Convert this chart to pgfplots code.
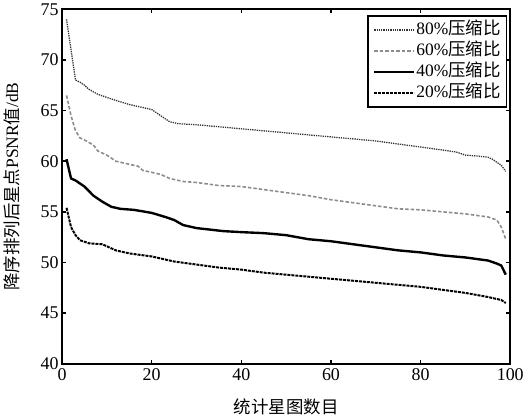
\documentclass[border=0pt]{standalone}
\usepackage{fontspec}
\setmainfont{Liberation Serif}
\newfontfamily\cjk{Noto Sans CJK SC}
\usepackage{pgfplots}
\pgfplotsset{compat=1.18}

\begin{document}
\begin{tikzpicture}
\begin{axis}[
  scale only axis,
  width=450bp, height=356bp,
  xmin=0, xmax=100, ymin=40, ymax=75,
  xtick={0,20,...,100}, ytick={40,45,...,75},
  tick align=inside, major tick length=4bp,
  axis line style={line width=2pt},
  tick style={line width=1.6pt, black},
  /pgf/number format/assume math mode=true,
  tick label style={font=\fontsize{18bp}{20bp}\selectfont\rmfamily},
  xticklabel style={yshift=-1bp},
  label style={font=\fontsize{17.5bp}{20bp}\selectfont},
  xlabel={\cjk 统计星图数目},
  ylabel={{\cjk 降序排列后星点}PSNR{\cjk 值}/dB},
  xlabel style={at={(axis description cs:0.5,-0.122)}, anchor=center},
  ylabel style={at={(axis description cs:-0.113,0.5)}, anchor=center},
  legend style={at={(1,1)}, xshift=-3bp, yshift=-6bp, anchor=north east,
    draw=black, line width=1.4pt, font=\fontsize{17.5bp}{19bp}\selectfont,
    inner sep=5bp, row sep=2.5bp,
    nodes={inner sep=1bp, text height=13bp, text depth=3.5bp}},
  legend cell align=left,
  legend image code/.code={\draw[#1] (0bp,0bp) -- (40bp,0bp);},
]
\addplot[black!80, line width=1.3pt, densely dotted] coordinates {
(1,74)(2,71)(3,68)(4,67.8)(5,67.5)(6,67.1)(8,66.6)(10,66.3)(12,66)(15,65.6)
(18,65.3)(20,65.1)(21,64.8)(22,64.5)(24,63.9)(26,63.7)(30,63.6)(35,63.4)
(40,63.2)(45,63.0)(50,62.8)(55,62.6)(60,62.4)(65,62.2)(70,62.0)(75,61.7)
(80,61.4)(85,61.1)(88,60.9)(90,60.6)(93,60.5)(95,60.4)(96,60.2)(98,59.6)(99,59.0)};
\addlegendentry{80\%{\cjk 压缩比}}
\addplot[black!45, line width=1.6pt, dash pattern=on 3.5bp off 2bp] coordinates {
(1,66.5)(2,64.5)(3,63)(4,62.3)(5,62.1)(7,61.6)(8,61)(10,60.6)(12,60)(15,59.7)
(17,59.5)(18,59.1)(22,58.7)(24,58.3)(27,58)(30,57.9)(35,57.6)(40,57.5)(45,57.2)
(50,56.9)(55,56.6)(60,56.2)(65,55.9)(70,55.6)(75,55.3)(80,55.2)(85,55.0)
(90,54.8)(95,54.5)(97,54.2)(98,53.5)(99,52.3)};
\addlegendentry{60\%{\cjk 压缩比}}
\addplot[black, line width=2.4pt] coordinates {
(1,60.2)(2,58.3)(3,58.1)(5,57.5)(7,56.6)(9,56)(11,55.5)(13,55.3)(16,55.2)
(20,54.9)(23,54.5)(25,54.2)(27,53.7)(30,53.4)(36,53.1)(40,53.0)(45,52.9)
(50,52.7)(55,52.3)(60,52.1)(65,51.8)(70,51.5)(75,51.2)(80,51.0)(85,50.7)
(90,50.5)(95,50.2)(97,49.9)(98,49.7)(99,48.8)};
\addlegendentry{40\%{\cjk 压缩比}}
\addplot[black, line width=2pt, dash pattern=on 3bp off 1bp] coordinates {
(1,55.4)(2,53.5)(3,52.7)(4,52.2)(6,51.9)(9,51.8)(12,51.2)(15,50.9)(20,50.6)
(25,50.1)(30,49.8)(35,49.5)(40,49.3)(45,49.0)(50,48.8)(55,48.6)(60,48.4)
(65,48.2)(70,48.0)(75,47.8)(80,47.6)(85,47.3)(90,47.0)(95,46.6)(98,46.3)(99,46.0)};
\addlegendentry{20\%{\cjk 压缩比}}
\end{axis}
\end{tikzpicture}
\end{document}
